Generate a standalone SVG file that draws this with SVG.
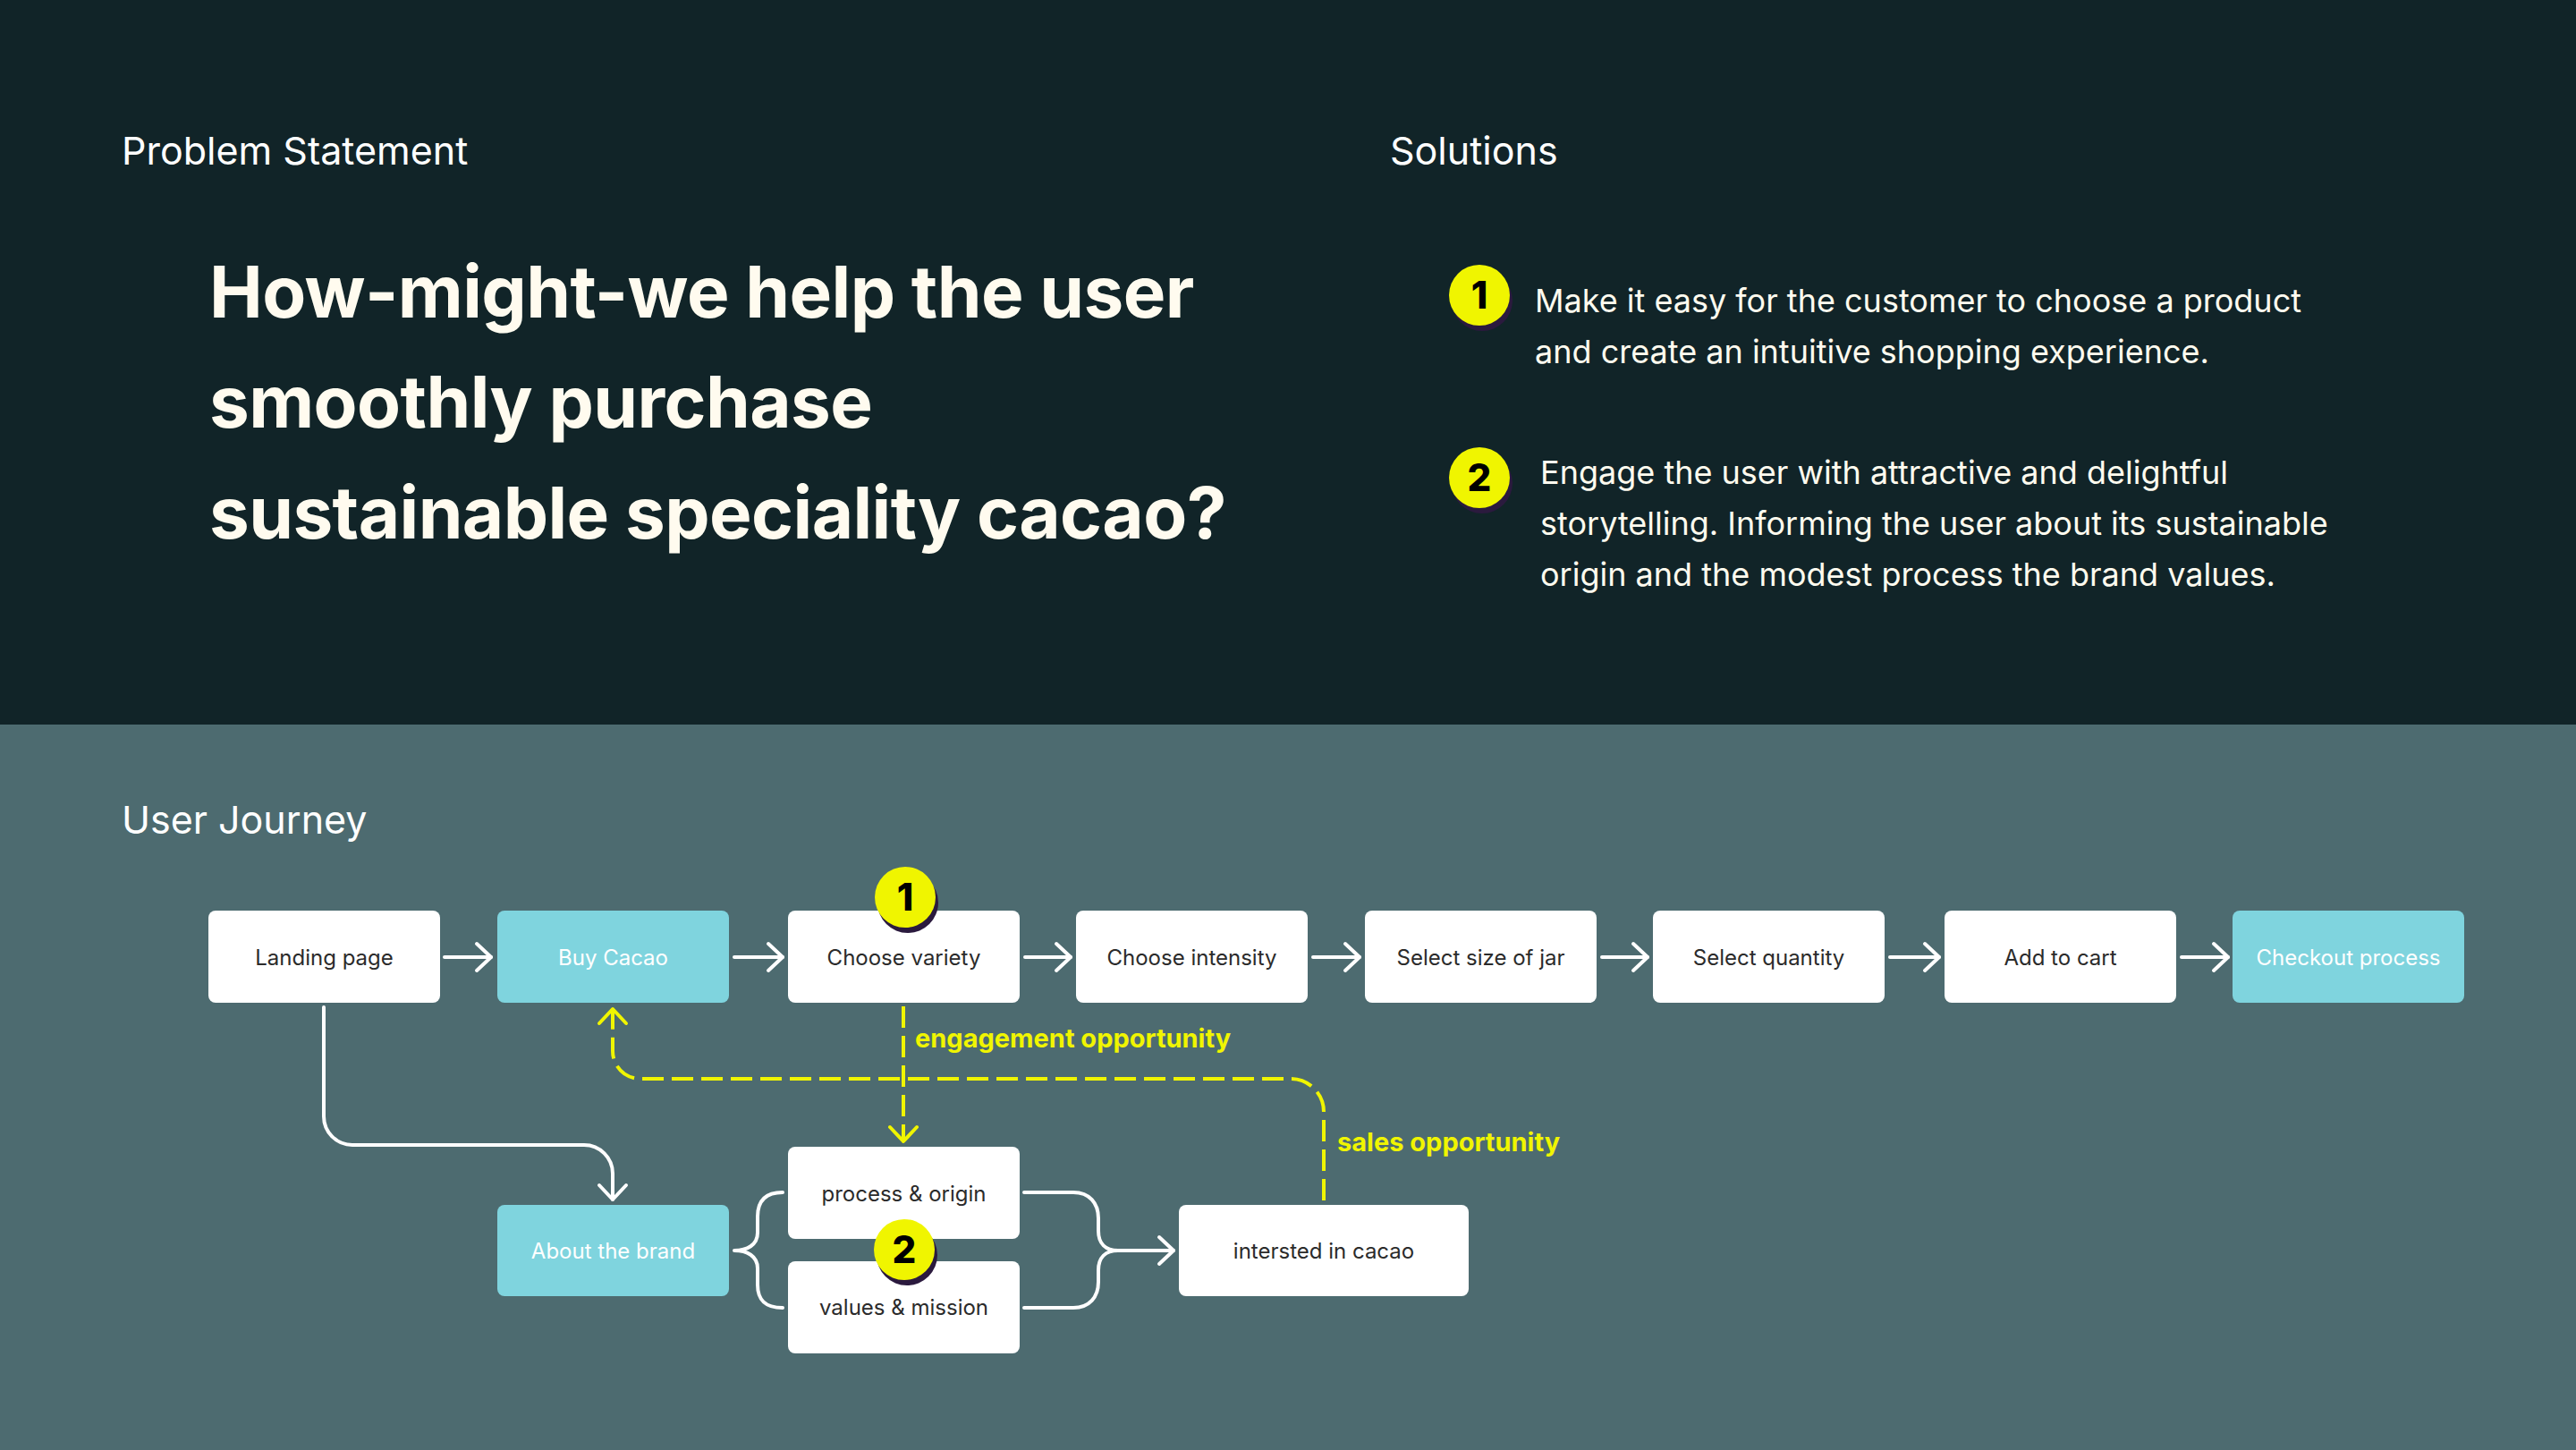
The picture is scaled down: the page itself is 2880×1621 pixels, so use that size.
<svg xmlns="http://www.w3.org/2000/svg" width="2880" height="1621" viewBox="0 0 2880 1621">
<style>
.h{font-family:Inter,"Noto Sans",sans-serif;font-size:43px;fill:#ffffff}
.hl{font-family:Inter,"Noto Sans",sans-serif;font-size:80px;font-weight:700;fill:#fffbef;letter-spacing:-0.6px}
.sol{font-family:Inter,"Noto Sans",sans-serif;font-size:36px;fill:#fffbef}
.box{fill:#ffffff}
.teal{fill:#7fd4de}
.bt{font-family:Inter,"Noto Sans",sans-serif;font-size:24px;fill:#2b2b2b;text-anchor:middle}
.btw{font-family:Inter,"Noto Sans",sans-serif;font-size:24px;fill:#ffffff;text-anchor:middle}
.lbl{font-family:Inter,"Noto Sans",sans-serif;font-size:29px;font-weight:700;fill:#f0f500}
.badge{fill:#f0f500}
.bsh{fill:#2b1a3e}
.num{font-family:Inter,"Noto Sans",sans-serif;font-size:42px;font-weight:800;fill:#000000;text-anchor:middle}
.wl{fill:none;stroke:#ffffff;stroke-width:4;stroke-linecap:round;stroke-linejoin:round}
.yl{fill:none;stroke:#f0f500;stroke-width:4;stroke-dasharray:24 9}
</style>
<defs>
<marker id="aw" viewBox="-20 -20 40 40" refX="0" refY="0" markerWidth="40" markerHeight="40" markerUnits="userSpaceOnUse" orient="auto">
<path d="M -16 -15 L 0 0 L -16 15" fill="none" stroke="#ffffff" stroke-width="4" stroke-linecap="round" stroke-linejoin="round"/>
</marker>
<marker id="ay" viewBox="-20 -20 40 40" refX="0" refY="0" markerWidth="40" markerHeight="40" markerUnits="userSpaceOnUse" orient="auto">
<path d="M -16 -15 L 0 0 L -16 15" fill="none" stroke="#f0f500" stroke-width="4" stroke-linecap="round" stroke-linejoin="round"/>
</marker>
</defs>

<rect x="0" y="0" width="2880" height="810" fill="#112428"/>
<rect x="0" y="810" width="2880" height="811" fill="#4d6b70"/>

<text class="h" x="136" y="184">Problem Statement</text>
<text class="h" x="1554" y="184">Solutions</text>
<text class="h" x="136" y="932">User Journey</text>

<g id="headline">
<text class="hl" x="234" y="355">How-might-we help the user</text>
<text class="hl" x="234" y="478">smoothly purchase</text>
<text class="hl" x="234" y="602">sustainable speciality cacao?</text>
</g>

<g id="solution-1">
<circle class="bsh" cx="1657" cy="336" r="34"/>
<circle class="badge" cx="1654" cy="330" r="34"/>
<text class="num" x="1654" y="345">1</text>
<text class="sol" x="1716" y="349">Make it easy for the customer to choose a product</text>
<text class="sol" x="1716" y="406">and create an intuitive shopping experience.</text>
</g>
<g id="solution-2">
<circle class="bsh" cx="1657" cy="540" r="34"/>
<circle class="badge" cx="1654" cy="534" r="34"/>
<text class="num" x="1654" y="549">2</text>
<text class="sol" x="1722" y="541">Engage the user with attractive and delightful</text>
<text class="sol" x="1722" y="598">storytelling. Informing the user about its sustainable</text>
<text class="sol" x="1722" y="655">origin and the modest process the brand values.</text>
</g>

<g id="connectors">
<path class="wl" d="M 497 1070 H 549" marker-end="url(#aw)"/>
<path class="wl" d="M 821 1070 H 875" marker-end="url(#aw)"/>
<path class="wl" d="M 1146 1070 H 1197" marker-end="url(#aw)"/>
<path class="wl" d="M 1468 1070 H 1520" marker-end="url(#aw)"/>
<path class="wl" d="M 1791 1070 H 1842" marker-end="url(#aw)"/>
<path class="wl" d="M 2113 1070 H 2168" marker-end="url(#aw)"/>
<path class="wl" d="M 2439 1070 H 2491" marker-end="url(#aw)"/>
<path class="wl" d="M 362 1126 V 1248 A 32 32 0 0 0 394 1280 H 653 A 32 32 0 0 1 685 1312 V 1341" marker-end="url(#aw)"/>
<path class="wl" d="M 875 1333 C 855 1333 847 1343 847 1360 V 1378 C 847 1392 835 1398 821 1398 C 835 1398 847 1404 847 1418 V 1436 C 847 1453 855 1462 875 1462"/>
<path class="wl" d="M 1145 1333 H 1200 C 1218 1333 1228 1345 1228 1362 V 1376 C 1228 1390 1236 1398 1250 1398 H 1312" marker-end="url(#aw)"/>
<path class="wl" d="M 1145 1462 H 1200 C 1218 1462 1228 1450 1228 1433 V 1420 C 1228 1406 1236 1398 1250 1398"/>
<path class="yl" d="M 1010 1125 V 1276" marker-end="url(#ay)"/>
<path class="yl" d="M 1480 1342 V 1243 A 37 37 0 0 0 1443 1206 H 716 A 31 31 0 0 1 685 1175 V 1128" marker-end="url(#ay)"/>
<text class="lbl" x="1023" y="1171">engagement opportunity</text>
<text class="lbl" x="1495" y="1287">sales opportunity</text>
</g>

<g id="landing-page"><rect class="box" x="233" y="1018" width="259" height="103" rx="8"/><text class="bt" x="362.5" y="1079">Landing page</text></g>
<g id="buy-cacao"><rect class="teal" x="556" y="1018" width="259" height="103" rx="8"/><text class="btw" x="685.5" y="1079">Buy Cacao</text></g>
<g id="choose-variety"><rect class="box" x="881" y="1018" width="259" height="103" rx="8"/><text class="bt" x="1010.5" y="1079">Choose variety</text></g>
<g id="choose-intensity"><rect class="box" x="1203" y="1018" width="259" height="103" rx="8"/><text class="bt" x="1332.5" y="1079">Choose intensity</text></g>
<g id="select-size"><rect class="box" x="1526" y="1018" width="259" height="103" rx="8"/><text class="bt" x="1655.5" y="1079">Select size of jar</text></g>
<g id="select-quantity"><rect class="box" x="1848" y="1018" width="259" height="103" rx="8"/><text class="bt" x="1977.5" y="1079">Select quantity</text></g>
<g id="add-to-cart"><rect class="box" x="2174" y="1018" width="259" height="103" rx="8"/><text class="bt" x="2303.5" y="1079">Add to cart</text></g>
<g id="checkout"><rect class="teal" x="2496" y="1018" width="259" height="103" rx="8"/><text class="btw" x="2625.5" y="1079">Checkout process</text></g>
<g id="about-brand"><rect class="teal" x="556" y="1347" width="259" height="102" rx="8"/><text class="btw" x="685.5" y="1407">About the brand</text></g>
<g id="process-origin"><rect class="box" x="881" y="1282" width="259" height="103" rx="8"/><text class="bt" x="1010.5" y="1343">process &amp; origin</text></g>
<g id="values-mission"><rect class="box" x="881" y="1410" width="259" height="103" rx="8"/><text class="bt" x="1010.5" y="1470">values &amp; mission</text></g>
<g id="interested"><rect class="box" x="1318" y="1347" width="324" height="102" rx="8"/><text class="bt" x="1480" y="1407">intersted in cacao</text></g>

<g id="badge-1">
<circle class="bsh" cx="1015" cy="1009" r="34"/>
<circle class="badge" cx="1012" cy="1003" r="34"/>
<text class="num" x="1012" y="1018">1</text>
</g>
<g id="badge-2">
<circle class="bsh" cx="1014" cy="1403" r="34"/>
<circle class="badge" cx="1011" cy="1397" r="34"/>
<text class="num" x="1011" y="1412">2</text>
</g>
</svg>
